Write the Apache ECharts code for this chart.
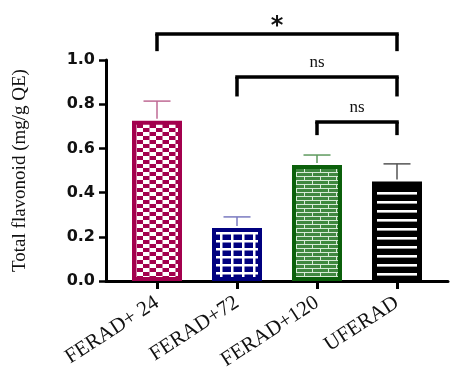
<!DOCTYPE html>
<html><head><meta charset="utf-8">
<script src="https://cdn.jsdelivr.net/npm/echarts@6/dist/echarts.min.js"></script>
<style>html,body{margin:0;padding:0;background:#fff}#c{width:450px;height:375px}</style>
</head><body><div id="c"></div>
<script>
const categories = ['FERAD+ 24', 'FERAD+72', 'FERAD+120', 'UFERAD'];
const means = [0.725, 0.24, 0.525, 0.45];
const errTops = [0.814, 0.29, 0.57, 0.53];
// significance brackets
const bracketFrom = [0, 1, 2];
const bracketTo = [3, 3, 3];
const bracketTop = [1.118, 0.923, 0.72];
const bracketDrop = [1.04, 0.835, 0.66];
const bracketLabels = ['*', 'ns', 'ns'];
const borderColors = ['#a3004e', '#00007f', '#0b600b', '#000000'];
const errColors = ['#bf6a94', '#7a7ac0', '#5e9a5e', '#555555'];

function mk(w, h, draw) {
  const c = document.createElement('canvas'); c.width = w; c.height = h;
  draw(c.getContext('2d')); return c;
}
const patterns = [
  mk(13, 8, g => { g.fillStyle = '#fff'; g.fillRect(0,0,13,8); g.fillStyle = '#a3004e';
    g.fillRect(0,0,6.5,4); g.fillRect(6.5,4,6.5,4); }),
  mk(11, 8, g => { g.fillStyle = '#00007f'; g.fillRect(0,0,11,8); g.fillStyle = '#fff';
    g.fillRect(0,0,11,2.5); g.fillRect(0,0,2.5,8); }),
  mk(16, 8, g => { g.fillStyle = '#3f873f'; g.fillRect(0,0,16,8); g.fillStyle = '#d8ead8';
    g.fillRect(0,0,16,1); g.fillRect(0,4,16,1); g.fillRect(0,0,1,4); g.fillRect(8,4,1,4); }),
  mk(10, 9, g => { g.fillStyle = '#000'; g.fillRect(0,0,10,9); g.fillStyle = '#fff';
    g.fillRect(0,3,10,2.6); })
];

const barData = means.map((v, i) => ({
  value: [i, v],
  itemStyle: { color: { image: patterns[i], repeat: 'repeat' }, borderColor: borderColors[i], borderWidth: i === 3 ? 5 : 4 }
}));

const chart = echarts.init(document.getElementById('c'), null, { renderer: 'canvas' });
chart.setOption({
  animation: false,
  grid: { left: 106, right: 2, top: 60, bottom: 94 },
  xAxis: {
    type: 'value', min: -0.6375, max: 3.6375,
    splitLine: { show: false },
    axisLine: { show: true, lineStyle: { color: '#000', width: 3 } },
    axisTick: { show: true, customValues: [0, 1, 2, 3], length: 8, lineStyle: { color: '#000', width: 3 } },
    axisLabel: { customValues: [0, 1, 2, 3], formatter: v => categories[Math.round(v)], rotate: 33, margin: 20,
      fontFamily: 'Liberation Serif', fontSize: 21, color: '#111' }
  },
  yAxis: {
    type: 'value', min: 0, max: 1, interval: 0.2,
    name: 'Total flavonoid (mg/g QE)', nameLocation: 'middle', nameGap: 76, nameRotate: 90,
    nameTextStyle: { fontFamily: 'Liberation Serif', fontSize: 19, color: '#111' },
    splitLine: { show: false },
    axisLine: { show: true, onZero: false, lineStyle: { color: '#000', width: 3 } },
    axisTick: { show: true, length: 7, lineStyle: { color: '#000', width: 2.5 } },
    axisLabel: { formatter: v => v.toFixed(1), margin: 11, fontFamily: 'DejaVu Sans', fontWeight: 'bold', fontSize: 16, color: '#111' }
  },
  series: [
    { type: 'bar', data: barData, barWidth: 50, z: 2 },
    {
      type: 'custom', z: 3, clip: false,
      data: means.map((v, i) => [i, v, errTops[i]]),
      renderItem: (params, api) => {
        const i = api.value(0);
        const p0 = api.coord([i, api.value(1)]);
        const p1 = api.coord([i, api.value(2)]);
        const c = errColors[params.dataIndex];
        return { type: 'group', children: [
          { type: 'line', shape: { x1: p0[0], y1: p0[1] - 2, x2: p1[0], y2: p1[1] }, style: { stroke: c, lineWidth: 1.5 } },
          { type: 'line', shape: { x1: p1[0] - 13.5, y1: p1[1], x2: p1[0] + 13.5, y2: p1[1] }, style: { stroke: c, lineWidth: 1.5 } }
        ]};
      }
    },
    {
      type: 'custom', z: 4, clip: false,
      data: bracketFrom.map((f, k) => [f, bracketTop[k], bracketTo[k], bracketDrop[k]]),
      renderItem: (params, api) => {
        const k = params.dataIndex;
        const a = api.coord([api.value(0), api.value(1)]);
        const e = api.coord([api.value(2), api.value(1)]);
        const d = api.coord([api.value(0), api.value(3)])[1];
        const star = bracketLabels[k] === '*';
        const st = { stroke: '#000', lineWidth: 3.5 };
        return { type: 'group', children: [
          { type: 'line', shape: { x1: a[0] - 1.75, y1: a[1], x2: e[0] + 1.75, y2: e[1] }, style: st },
          { type: 'line', shape: { x1: a[0], y1: a[1], x2: a[0], y2: d }, style: st },
          { type: 'line', shape: { x1: e[0], y1: e[1], x2: e[0], y2: d }, style: st },
          { type: 'text', style: { text: bracketLabels[k], x: (a[0] + e[0]) / 2, y: a[1] - (star ? 7 : 14),
            align: 'center', verticalAlign: 'middle',
            font: star ? 'bold 24px "DejaVu Sans"' : '17px "Liberation Serif"', fill: '#111' } }
        ]};
      }
    }
  ]
});
</script></body></html>
